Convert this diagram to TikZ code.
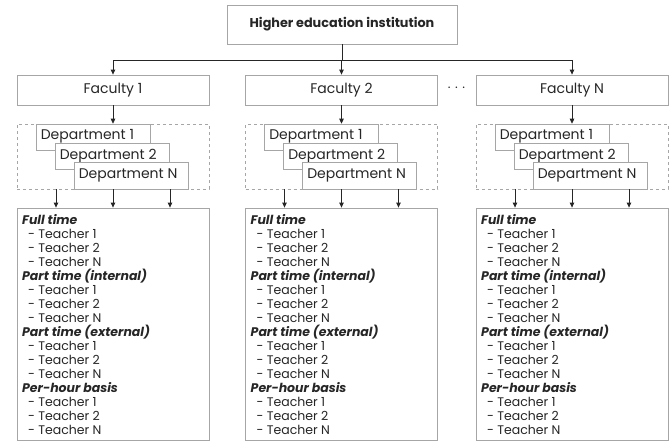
\documentclass[tikz,border=0pt]{standalone}
\usepackage{fontspec}
\setmainfont{Poppins}
\usetikzlibrary{arrows.meta}
\definecolor{boxgray}{HTML}{A6A6A6}
\definecolor{ink}{HTML}{262626}
\newcommand\grouphead[1]{{\bfseries\itshape #1}}
\newcommand\tchitem[1]{\hspace*{6pt}- Teacher #1}
\begin{document}
\begin{tikzpicture}[x=1pt,y=-1pt,
  every node/.style={text=ink},
  box/.style={draw=boxgray,line width=0.8pt,fill=white,inner sep=0pt},
  facbox/.style={box,minimum width=192pt,minimum height=30pt,font=\fontsize{14}{16}\selectfont},
  deptbox/.style={box,minimum width=114pt,minimum height=26.5pt},
  depttext/.style={anchor=west,inner sep=0pt,font=\fontsize{14}{16}\selectfont},
  dashbox/.style={draw=boxgray,dashed,line width=0.6pt,inner sep=0pt,minimum width=192pt,minimum height=65pt},
  conn/.style={draw=ink,line width=0.8pt},
  arr/.style={conn,-{Triangle[length=5pt,width=4.5pt]}}
]
\useasboundingbox (0,0) rectangle (672,445);

% institution
\node[box,minimum width=230pt,minimum height=39pt,font=\bfseries\fontsize{12.8}{15}\selectfont] (top) at (342,24.5) {Higher education institution};

\foreach \i/\dx/\lab in {1/0/1,2/228.5/2,3/459/N}{
  % faculty
  \node[facbox] (fac\i) at (113+\dx,90) {Faculty \lab};
  % departments
  \node[dashbox] (dbox\i) at (113+\dx,156.5) {};
  \node[deptbox] (da\i) at (93+\dx,137.25) {};
  \node[depttext] (dat\i) at ([xshift=5pt,yshift=0.5pt]da\i.west) {Department 1};
  \node[deptbox] (db\i) at (112+\dx,156.5) {};
  \node[depttext] (dbt\i) at ([xshift=5pt,yshift=0.5pt]db\i.west) {Department 2};
  \node[deptbox] (dc\i) at (131+\dx,175.75) {};
  \node[depttext] (dct\i) at ([xshift=5pt,yshift=0.5pt]dc\i.west) {Department N};
  % teachers
  \node[box,minimum width=192pt,minimum height=232pt] (tch\i) at (113+\dx,324) {};
  \node[anchor=north west,inner sep=0pt,align=left,font=\fontsize{12.5}{14}\selectfont] (tl\i) at (22+\dx,214)
   {\grouphead{Full time}\\\tchitem{1}\\\tchitem{2}\\\tchitem{N}\\
    \grouphead{Part time (internal)}\\\tchitem{1}\\\tchitem{2}\\\tchitem{N}\\
    \grouphead{Part time (external)}\\\tchitem{1}\\\tchitem{2}\\\tchitem{N}\\
    \grouphead{Per-hour basis}\\\tchitem{1}\\\tchitem{2}\\\tchitem{N}};
  % connectors
  \coordinate (j\i) at (113+\dx,60);
  \draw[arr] (fac\i.south) -- (dbox\i.north);
  \draw[arr] ([xshift=-57pt]dbox\i.south) -- ([xshift=-57pt]tch\i.north);
  \draw[arr] (dbox\i.south) -- (tch\i.north);
  \draw[arr] ([xshift=57pt]dbox\i.south) -- ([xshift=57pt]tch\i.north);
}
\draw[conn] (top.south) -- (top.south |- j2);
\draw[conn] (j1) -- (j3);
\foreach \i in {1,2,3}{\draw[arr] (j\i) -- (fac\i.north);}

\node[font=\fontsize{13}{15}\selectfont] (dots) at (456.5,88) {. . .};
\end{tikzpicture}
\end{document}
